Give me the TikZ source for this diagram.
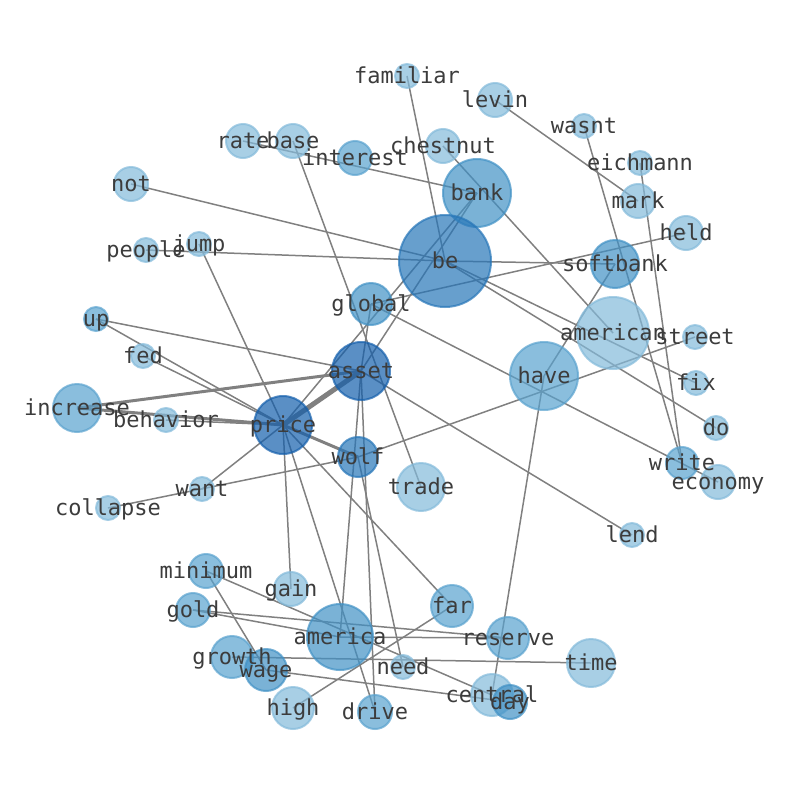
\documentclass[tikz,border=0pt]{standalone}
\usepackage{fontspec}
\setmonofont{DejaVu Sans Mono}
\usetikzlibrary{backgrounds}

\definecolor{bl1}{RGB}{131,186,218}
\definecolor{bl2}{RGB}{89,162,206}
\definecolor{bl3}{RGB}{65,145,197}
\definecolor{bl4}{RGB}{39,118,184}
\definecolor{bl5}{RGB}{20,95,172}
\definecolor{linkgray}{RGB}{128,128,128}
\definecolor{tagtext}{RGB}{60,60,60}

\begin{document}
\begin{tikzpicture}[x=1pt, y=-1pt,
        word/.style={circle, draw=#1, fill=#1, fill opacity=0.7, draw opacity=0.7, line width=2pt, inner sep=0pt},
        tag/.style={font=\fontsize{22}{22}\selectfont\ttfamily, text=tagtext, text height=17pt, text depth=2pt, inner sep=0pt},
        link/.style={draw=linkgray, line width=1.5pt}]
        \useasboundingbox (0,0) rectangle (794,790);

        \node[word=bl1, minimum size=24pt] (familiar) at (407,76) {};
        \node[word=bl1, minimum size=34pt] (levin) at (495,100) {};
        \node[word=bl1, minimum size=24pt] (wasnt) at (584,126) {};
        \node[word=bl1, minimum size=34pt] (rate) at (243,141) {};
        \node[word=bl1, minimum size=34pt] (base) at (293,141) {};
        \node[word=bl2, minimum size=34pt] (interest) at (355,158) {};
        \node[word=bl1, minimum size=34pt] (chestnut) at (443,146) {};
        \node[word=bl1, minimum size=24pt] (eichmann) at (640,163) {};
        \node[word=bl3, minimum size=68pt] (bank) at (477,193) {};
        \node[word=bl1, minimum size=34pt] (mark) at (638,201) {};
        \node[word=bl1, minimum size=34pt] (not) at (131,184) {};
        \node[word=bl1, minimum size=34pt] (held) at (686,233) {};
        \node[word=bl1, minimum size=24pt] (people) at (146,250) {};
        \node[word=bl1, minimum size=24pt] (jump) at (199,244) {};
        \node[word=bl4, minimum size=92pt] (be) at (445,261) {};
        \node[word=bl3, minimum size=48pt] (softbank) at (615,264) {};
        \node[word=bl3, minimum size=42pt] (global) at (371,304) {};
        \node[word=bl2, minimum size=24pt] (up) at (96,319) {};
        \node[word=bl1, minimum size=72pt] (american) at (613,333) {};
        \node[word=bl1, minimum size=24pt] (street) at (695,337) {};
        \node[word=bl1, minimum size=24pt] (fed) at (143,356) {};
        \node[word=bl5, minimum size=58pt] (asset) at (361,371) {};
        \node[word=bl2, minimum size=68pt] (have) at (544,376) {};
        \node[word=bl1, minimum size=24pt] (fix) at (696,383) {};
        \node[word=bl2, minimum size=48pt] (increase) at (77,408) {};
        \node[word=bl1, minimum size=24pt] (behavior) at (166,420) {};
        \node[word=bl5, minimum size=58pt] (price) at (283,425) {};
        \node[word=bl1, minimum size=24pt] (do) at (716,428) {};
        \node[word=bl4, minimum size=40pt] (wolf) at (358,457) {};
        \node[word=bl2, minimum size=32pt] (write) at (682,463) {};
        \node[word=bl1, minimum size=34pt] (economy) at (718,482) {};
        \node[word=bl1, minimum size=48pt] (trade) at (421,487) {};
        \node[word=bl1, minimum size=24pt] (want) at (202,489) {};
        \node[word=bl1, minimum size=24pt] (collapse) at (108,508) {};
        \node[word=bl1, minimum size=24pt] (lend) at (632,535) {};
        \node[word=bl2, minimum size=34pt] (minimum) at (206,571) {};
        \node[word=bl1, minimum size=34pt] (gain) at (291,589) {};
        \node[word=bl2, minimum size=42pt] (far) at (452,606) {};
        \node[word=bl2, minimum size=34pt] (gold) at (193,610) {};
        \node[word=bl3, minimum size=66pt] (america) at (340,637) {};
        \node[word=bl2, minimum size=42pt] (reserve) at (508,638) {};
        \node[word=bl2, minimum size=42pt] (growth) at (232,657) {};
        \node[word=bl3, minimum size=42pt] (wage) at (266,670) {};
        \node[word=bl1, minimum size=24pt] (need) at (403,667) {};
        \node[word=bl1, minimum size=48pt] (time) at (591,663) {};
        \node[word=bl1, minimum size=42pt] (central) at (492,695) {};
        \node[word=bl3, minimum size=34pt] (day) at (510,702) {};
        \node[word=bl1, minimum size=42pt] (high) at (293,708) {};
        \node[word=bl2, minimum size=34pt] (drive) at (375,712) {};

        \begin{scope}[on background layer]
        \foreach \i/\j in {familiar/be, levin/mark, wasnt/write, eichmann/write, rate/bank,
                base/trade, chestnut/american, not/be, people/be, be/softbank, jump/price,
                up/asset, up/price, fed/price, behavior/price, price/bank, price/want,
                price/gain, price/drive, price/far, asset/bank, asset/global, asset/america,
                asset/drive, asset/lend, global/held, global/economy, be/fix, be/do,
                softbank/have, have/central, wolf/street, wolf/collapse, wolf/need,
                minimum/central, minimum/wage, gold/reserve, gold/america, america/reserve,
                growth/time, wage/day, far/high} {
                \draw[link] (\i.center) -- (\j.center);
        }
        \draw[link, line width=3pt] (increase.center) -- (asset.center);
        \draw[link, line width=3pt] (increase.center) -- (price.center);
        \draw[link, line width=3pt] (price.center) -- (wolf.center);
        \draw[link, line width=5pt] (price.center) -- (asset.center);
        \end{scope}

        % words on top of every circle
        \foreach \n in {familiar, levin, wasnt, rate, base, interest, chestnut, eichmann, bank,
                mark, not, held, people, jump, be, softbank, global, up, american, street, fed,
                asset, have, fix, increase, behavior, price, do, wolf, write, economy, trade,
                want, collapse, lend, minimum, gain, far, gold, america, reserve, growth, wage,
                need, time, central, day, high, drive} {
                \node[tag] (\n-tag) at (\n.center) {\n};
        }
\end{tikzpicture}
\end{document}
